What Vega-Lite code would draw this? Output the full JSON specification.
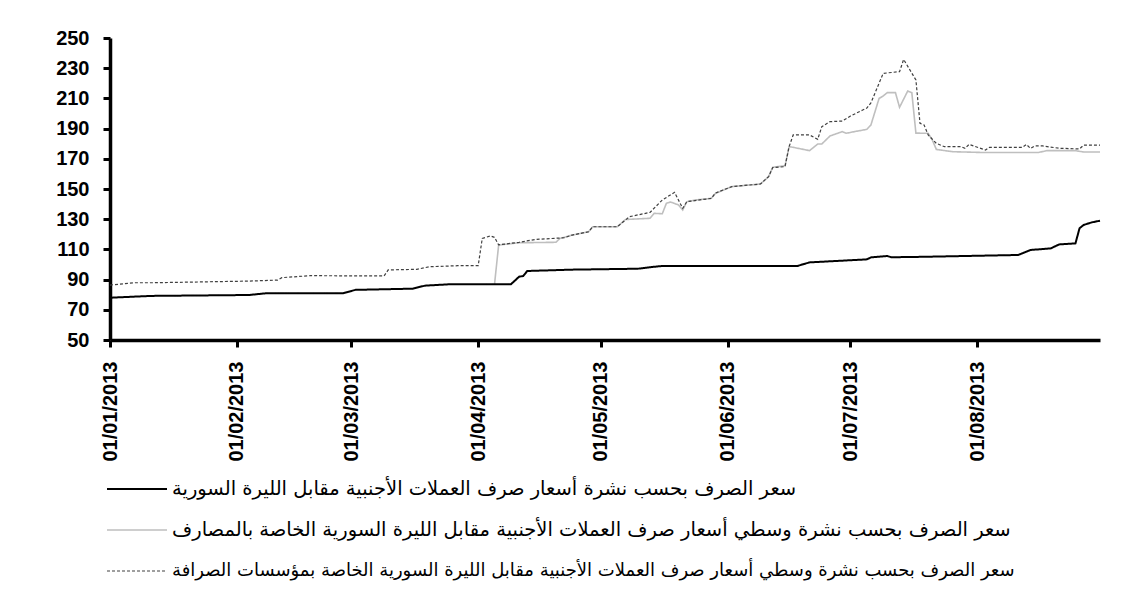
{
  "$schema": "https://vega.github.io/schema/vega-lite/v6.json",
  "width": 990,
  "height": 302,
  "autosize": {"type": "none"},
  "padding": {"left": 110, "top": 38, "right": 30, "bottom": 257},
  "background": "white",
  "config": {
    "view": {"stroke": null},
    "axis": {
      "domainColor": "black", "domainWidth": 3.5, "tickColor": "black", "tickWidth": 3, "tickSize": 7,
      "labelFont": "Liberation Sans", "labelFontWeight": "bold", "labelFontSize": 20, "labelColor": "black",
      "grid": false, "title": null
    },
    "legend": {
      "orient": "none", "legendX": 16, "legendY": 440, "title": null, "padding": 0,
      "symbolType": "M-3,0H3", "symbolSize": 400, "labelFont": "DejaVu Sans", "labelFontSize": 19.5,
      "labelColor": "black", "labelLimit": 1000, "rowPadding": 20, "labelOffset": 24
    }
  },
  "data": {"values": [
    {"d":"2013/01/01","s":"A","v":78.0},{"d":"2013/01/11","s":"A","v":79.2},{"d":"2013/02/04","s":"A","v":79.8},
    {"d":"2013/02/08","s":"A","v":80.9},{"d":"2013/02/27","s":"A","v":81.0},{"d":"2013/03/02","s":"A","v":83.2},
    {"d":"2013/03/16","s":"A","v":84.0},{"d":"2013/03/19","s":"A","v":86.0},{"d":"2013/03/25","s":"A","v":86.9},
    {"d":"2013/04/09","s":"A","v":86.9},{"d":"2013/04/11","s":"A","v":91.9},{"d":"2013/04/12","s":"A","v":92.4},
    {"d":"2013/04/13","s":"A","v":95.7},{"d":"2013/04/24","s":"A","v":96.6},{"d":"2013/05/10","s":"A","v":97.2},
    {"d":"2013/05/14","s":"A","v":98.5},{"d":"2013/05/16","s":"A","v":99.0},{"d":"2013/06/18","s":"A","v":99.0},
    {"d":"2013/06/21","s":"A","v":101.4},{"d":"2013/07/05","s":"A","v":103.4},{"d":"2013/07/06","s":"A","v":104.7},
    {"d":"2013/07/10","s":"A","v":105.6},{"d":"2013/07/11","s":"A","v":104.8},{"d":"2013/07/19","s":"A","v":105.1},
    {"d":"2013/08/11","s":"A","v":106.3},{"d":"2013/08/14","s":"A","v":109.6},{"d":"2013/08/19","s":"A","v":110.7},
    {"d":"2013/08/21","s":"A","v":113.3},{"d":"2013/08/25","s":"A","v":114.0},{"d":"2013/08/26","s":"A","v":124.0},
    {"d":"2013/08/27","s":"A","v":126.2},{"d":"2013/08/29","s":"A","v":127.9},{"d":"2013/08/31","s":"A","v":129.0},

    {"d":"2013/04/05","s":"B","v":87.0},{"d":"2013/04/06","s":"B","v":112.9},{"d":"2013/04/11","s":"B","v":114.4},
    {"d":"2013/04/20","s":"B","v":114.7},{"d":"2013/04/21","s":"B","v":117.3},{"d":"2013/04/24","s":"B","v":119.5},
    {"d":"2013/04/28","s":"B","v":121.7},{"d":"2013/04/29","s":"B","v":125.0},{"d":"2013/05/05","s":"B","v":125.0},
    {"d":"2013/05/07","s":"B","v":129.8},{"d":"2013/05/13","s":"B","v":130.6},{"d":"2013/05/14","s":"B","v":133.9},
    {"d":"2013/05/16","s":"B","v":133.6},{"d":"2013/05/17","s":"B","v":140.5},{"d":"2013/05/18","s":"B","v":141.4},
    {"d":"2013/05/20","s":"B","v":139.4},{"d":"2013/05/21","s":"B","v":136.1},{"d":"2013/05/22","s":"B","v":141.6},
    {"d":"2013/05/24","s":"B","v":142.7},{"d":"2013/05/28","s":"B","v":143.8},{"d":"2013/05/29","s":"B","v":147.1},
    {"d":"2013/06/02","s":"B","v":151.6},{"d":"2013/06/09","s":"B","v":153.3},{"d":"2013/06/11","s":"B","v":158.2},
    {"d":"2013/06/12","s":"B","v":164.4},{"d":"2013/06/15","s":"B","v":165.4},{"d":"2013/06/16","s":"B","v":178.0},
    {"d":"2013/06/17","s":"B","v":177.6},{"d":"2013/06/21","s":"B","v":175.4},{"d":"2013/06/23","s":"B","v":179.8},
    {"d":"2013/06/24","s":"B","v":179.8},{"d":"2013/06/26","s":"B","v":185.1},{"d":"2013/06/29","s":"B","v":188.0},
    {"d":"2013/06/30","s":"B","v":186.9},{"d":"2013/07/02","s":"B","v":188.0},{"d":"2013/07/05","s":"B","v":189.5},
    {"d":"2013/07/06","s":"B","v":192.4},{"d":"2013/07/08","s":"B","v":210.0},{"d":"2013/07/09","s":"B","v":211.6},
    {"d":"2013/07/10","s":"B","v":213.8},{"d":"2013/07/12","s":"B","v":213.8},{"d":"2013/07/13","s":"B","v":204.1},
    {"d":"2013/07/15","s":"B","v":214.9},{"d":"2013/07/16","s":"B","v":213.8},{"d":"2013/07/17","s":"B","v":187.0},
    {"d":"2013/07/20","s":"B","v":186.9},{"d":"2013/07/21","s":"B","v":182.5},{"d":"2013/07/22","s":"B","v":176.2},
    {"d":"2013/07/26","s":"B","v":174.7},{"d":"2013/08/02","s":"B","v":174.2},{"d":"2013/08/16","s":"B","v":174.2},
    {"d":"2013/08/18","s":"B","v":175.4},{"d":"2013/08/25","s":"B","v":175.4},{"d":"2013/08/27","s":"B","v":174.5},
    {"d":"2013/08/31","s":"B","v":174.5},

    {"d":"2013/01/01","s":"C","v":86.4},{"d":"2013/01/07","s":"C","v":87.9},{"d":"2013/01/11","s":"C","v":87.9},
    {"d":"2013/02/04","s":"C","v":89.0},{"d":"2013/02/11","s":"C","v":89.7},{"d":"2013/02/12","s":"C","v":91.3},
    {"d":"2013/02/19","s":"C","v":92.6},{"d":"2013/03/09","s":"C","v":92.4},{"d":"2013/03/10","s":"C","v":96.4},
    {"d":"2013/03/17","s":"C","v":96.8},{"d":"2013/03/20","s":"C","v":98.5},{"d":"2013/03/27","s":"C","v":99.2},
    {"d":"2013/04/01","s":"C","v":99.2},{"d":"2013/04/02","s":"C","v":117.3},{"d":"2013/04/04","s":"C","v":118.9},
    {"d":"2013/04/05","s":"C","v":118.0},{"d":"2013/04/06","s":"C","v":113.0},{"d":"2013/04/11","s":"C","v":114.7},
    {"d":"2013/04/15","s":"C","v":116.6},{"d":"2013/04/22","s":"C","v":117.7},{"d":"2013/04/24","s":"C","v":119.5},
    {"d":"2013/04/28","s":"C","v":121.7},{"d":"2013/04/29","s":"C","v":125.0},{"d":"2013/05/05","s":"C","v":125.0},
    {"d":"2013/05/08","s":"C","v":131.7},{"d":"2013/05/13","s":"C","v":134.5},{"d":"2013/05/16","s":"C","v":142.7},
    {"d":"2013/05/19","s":"C","v":147.8},{"d":"2013/05/21","s":"C","v":137.2},{"d":"2013/05/22","s":"C","v":141.6},
    {"d":"2013/05/28","s":"C","v":143.8},{"d":"2013/05/29","s":"C","v":147.3},{"d":"2013/06/02","s":"C","v":151.6},
    {"d":"2013/06/09","s":"C","v":153.3},{"d":"2013/06/11","s":"C","v":158.2},{"d":"2013/06/12","s":"C","v":164.2},
    {"d":"2013/06/15","s":"C","v":164.8},{"d":"2013/06/16","s":"C","v":178.0},{"d":"2013/06/17","s":"C","v":185.8},
    {"d":"2013/06/21","s":"C","v":185.8},{"d":"2013/06/23","s":"C","v":182.9},{"d":"2013/06/24","s":"C","v":191.3},
    {"d":"2013/06/26","s":"C","v":194.6},{"d":"2013/06/29","s":"C","v":195.0},{"d":"2013/07/01","s":"C","v":198.3},
    {"d":"2013/07/04","s":"C","v":202.3},{"d":"2013/07/05","s":"C","v":203.6},{"d":"2013/07/06","s":"C","v":207.0},
    {"d":"2013/07/09","s":"C","v":226.6},{"d":"2013/07/13","s":"C","v":227.7},{"d":"2013/07/14","s":"C","v":235.8},
    {"d":"2013/07/17","s":"C","v":222.2},{"d":"2013/07/18","s":"C","v":193.5},{"d":"2013/07/19","s":"C","v":192.4},
    {"d":"2013/07/20","s":"C","v":185.8},{"d":"2013/07/22","s":"C","v":180.2},{"d":"2013/07/24","s":"C","v":178.0},
    {"d":"2013/07/28","s":"C","v":178.0},{"d":"2013/07/29","s":"C","v":176.9},{"d":"2013/07/30","s":"C","v":179.5},
    {"d":"2013/08/03","s":"C","v":175.8},{"d":"2013/08/04","s":"C","v":177.6},{"d":"2013/08/12","s":"C","v":177.6},
    {"d":"2013/08/13","s":"C","v":179.5},{"d":"2013/08/14","s":"C","v":176.9},{"d":"2013/08/15","s":"C","v":178.5},
    {"d":"2013/08/17","s":"C","v":178.5},{"d":"2013/08/21","s":"C","v":177.0},{"d":"2013/08/26","s":"C","v":176.5},
    {"d":"2013/08/27","s":"C","v":179.1},{"d":"2013/08/31","s":"C","v":179.1}
  ]},
  "encoding": {
    "x": {
      "field": "d", "type": "temporal",
      "scale": {"domain": [{"year": 2013, "month": 1, "date": 1}, {"year": 2013, "month": 8, "date": 31}]},
      "axis": {
        "format": "%d/%m/%Y", "labelAngle": 270, "labelAlign": "right", "labelBaseline": "middle",
        "labelPadding": 14, "labelOverlap": false, "labelFlush": false,
        "values": [
          {"year": 2013, "month": 1, "date": 1}, {"year": 2013, "month": 2, "date": 1},
          {"year": 2013, "month": 3, "date": 1}, {"year": 2013, "month": 4, "date": 1},
          {"year": 2013, "month": 5, "date": 1}, {"year": 2013, "month": 6, "date": 1},
          {"year": 2013, "month": 7, "date": 1}, {"year": 2013, "month": 8, "date": 1}
        ]
      }
    },
    "y": {
      "field": "v", "type": "quantitative",
      "scale": {"domain": [50, 250], "nice": false, "zero": false},
      "axis": {"values": [50, 70, 90, 110, 130, 150, 170, 190, 210, 230, 250], "labelPadding": 14}
    },
    "color": {
      "field": "s", "type": "nominal",
      "scale": {"domain": ["A", "B", "C"], "range": ["#000000", "#BFBFBF", "#404040"]},
      "legend": {
        "labelExpr": "datum.value == 'A' ? 'سعر الصرف بحسب نشرة أسعار صرف العملات الأجنبية مقابل الليرة السورية' : datum.value == 'B' ? 'سعر الصرف بحسب نشرة وسطي أسعار صرف العملات الأجنبية مقابل الليرة السورية الخاصة بالمصارف' : 'سعر الصرف بحسب نشرة وسطي أسعار صرف العملات الأجنبية مقابل الليرة السورية الخاصة بمؤسسات الصرافة'",
        "encode": {"labels": {"update": {"fontSize": {"signal": "datum.value == 'C' ? 18 : 19.5"}}}}
      }
    },
    "strokeDash": {
      "field": "s", "type": "nominal",
      "scale": {"domain": ["A", "B", "C"], "range": [[1, 0], [1, 0], [3, 2]]},
      "legend": {
        "labelExpr": "datum.value == 'A' ? 'سعر الصرف بحسب نشرة أسعار صرف العملات الأجنبية مقابل الليرة السورية' : datum.value == 'B' ? 'سعر الصرف بحسب نشرة وسطي أسعار صرف العملات الأجنبية مقابل الليرة السورية الخاصة بالمصارف' : 'سعر الصرف بحسب نشرة وسطي أسعار صرف العملات الأجنبية مقابل الليرة السورية الخاصة بمؤسسات الصرافة'",
        "encode": {"labels": {"update": {"fontSize": {"signal": "datum.value == 'C' ? 18 : 19.5"}}}}
      }
    },
    "strokeWidth": {
      "field": "s", "type": "nominal",
      "scale": {"domain": ["A", "B", "C"], "range": [2, 1.2, 1.2]},
      "legend": {
        "labelExpr": "datum.value == 'A' ? 'سعر الصرف بحسب نشرة أسعار صرف العملات الأجنبية مقابل الليرة السورية' : datum.value == 'B' ? 'سعر الصرف بحسب نشرة وسطي أسعار صرف العملات الأجنبية مقابل الليرة السورية الخاصة بالمصارف' : 'سعر الصرف بحسب نشرة وسطي أسعار صرف العملات الأجنبية مقابل الليرة السورية الخاصة بمؤسسات الصرافة'",
        "encode": {"labels": {"update": {"fontSize": {"signal": "datum.value == 'C' ? 18 : 19.5"}}}}
      }
    }
  },
  "layer": [
    {"transform": [{"filter": "datum.s != 'A'"}], "mark": {"type": "line"}},
    {"transform": [{"filter": "datum.s == 'A'"}], "mark": {"type": "line"}}
  ]
}
